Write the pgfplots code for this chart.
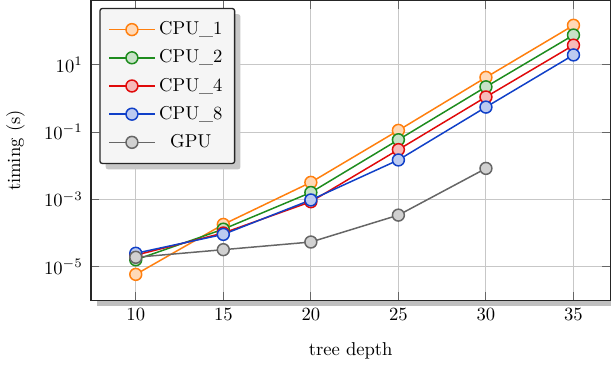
\documentclass[border=0pt]{standalone}
\usepackage{pgfplots}
\pgfplotsset{compat=1.18}
\usetikzlibrary{shadows}
\definecolor{cO}{HTML}{FF7F0E}
\definecolor{cG}{HTML}{1E8C1E}
\definecolor{cR}{HTML}{E00A0A}
\definecolor{cB}{HTML}{1040C8}
\definecolor{cY}{HTML}{666666}
\begin{document}
\begin{tikzpicture}
\begin{axis}[
  scale only axis,
  width=279pt, height=161pt,
  ymode=log,
  xmin=7.45, xmax=37.1,
  ymin=1e-6, ymax=794,
  xtick={10,15,20,25,30,35},
  ytick={1e-5,1e-3,1e-1,1e1},
  minor ytick={},
  log basis y=10,
  grid=major,
  grid style={line width=0.5pt, draw=black!22},
  major tick style={black!60, line width=0.5pt},
  axis line style={line width=0.8pt, draw=black!85},
  axis background/.style={fill=white, drop shadow={shadow xshift=3.2pt, shadow yshift=-3.2pt, fill=black!25, opacity=1}},
  xlabel={tree depth},
  ylabel={timing (s)},
  ylabel shift=3.5pt,
  xlabel shift=5pt,
  xticklabel style={yshift=-1pt},
  yticklabel style={xshift=-1pt},
  legend style={at={(rel axis cs:0.1468,0.7155)}, anchor=center, fill=none, draw=none,
    row sep=2.6pt, inner xsep=3pt, inner ysep=4pt},
  legend cell align=center,
  legend image code/.code={\draw[mark repeat=2,mark phase=2] plot coordinates {(0cm,0cm)(0.43cm,0cm)(0.86cm,0cm)};},
  every axis plot/.append style={line width=0.8pt, mark=*, mark size=3.2pt},
]
\fill[black!22, rounded corners=1.2pt] (rel axis cs:0.0281,0.4375) rectangle (rel axis cs:0.2875,0.955);
\filldraw[fill=black!4, draw=black!85, line width=0.7pt, rounded corners=1.2pt] (rel axis cs:0.0171,0.457) rectangle (rel axis cs:0.2764,0.974);
\addplot[cO, mark options={fill=cO!30!white, draw=cO}] coordinates {(10,5.9e-6)(15,1.8e-4)(20,3.2e-3)(25,0.112)(30,4.2)(35,148)};
\addlegendentry{CPU\_1}
\addplot[cG, mark options={fill=cG!25!white, draw=cG}] coordinates {(10,1.6e-5)(15,1.3e-4)(20,1.6e-3)(25,0.059)(30,2.2)(35,76)};
\addlegendentry{CPU\_2}
\addplot[cR, mark options={fill=cR!28!white, draw=cR}] coordinates {(10,2.2e-5)(15,1.0e-4)(20,8.5e-4)(25,0.030)(30,1.1)(35,38)};
\addlegendentry{CPU\_4}
\addplot[cB, mark options={fill=cB!28!white, draw=cB}] coordinates {(10,2.5e-5)(15,9.1e-5)(20,9.6e-4)(25,0.0148)(30,0.55)(35,19.5)};
\addlegendentry{CPU\_8}
\addplot[cY, mark options={fill=black!18, draw=cY}] coordinates {(10,1.9e-5)(15,3.2e-5)(20,5.4e-5)(25,3.4e-4)(30,8.3e-3)};
\addlegendentry{GPU}
\end{axis}
\end{tikzpicture}
\end{document}
